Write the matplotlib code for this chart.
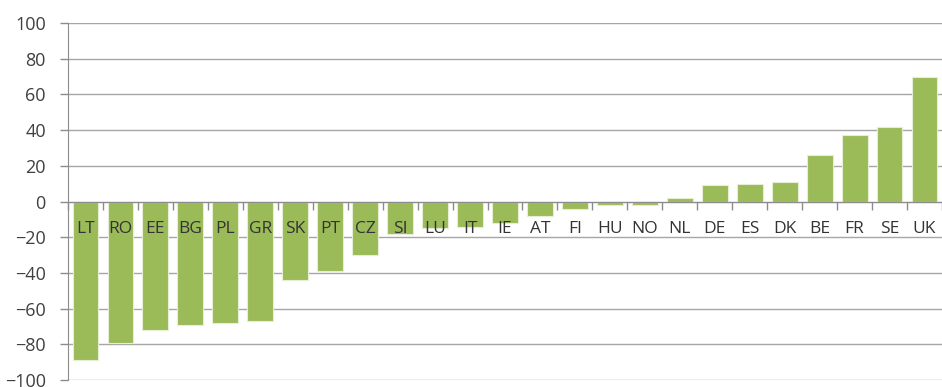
import matplotlib.pyplot as plt
import numpy as np

# Data
countries = ["LT", "RO", "EE", "BG", "PL", "GR", "SK", "PT", "CZ", "SI", "LU", "IT", "IE",
             "AT", "FI", "HU", "NO", "NL", "DE", "ES", "DK", "BE", "FR", "SE", "UK"]
values = [-89, -79, -72, -69, -68, -67, -44, -39, -30, -18, -15, -14, -12,
          -8, -4, -2, -2, 2, 9, 10, 11, 26, 37, 42, 70]
yticks = list(range(-100, 101, 20))

plt.rcParams['font.family'] = ['Open Sans', 'DejaVu Sans']

fig = plt.figure(figsize=(9.42, 3.87), dpi=100)
ax = fig.add_axes([0.0722, 0.018, 0.9278, 0.9225])

x = np.arange(len(countries))
ax.bar(x, values, width=0.74, color="#9BBB59", edgecolor="#E6EED5", linewidth=0.8, zorder=1)

ax.set_xlim(-0.5, len(countries) - 0.5)
ax.set_ylim(-100, 100)
ax.set_yticks(yticks)
ax.tick_params(axis="y", labelsize=13, labelcolor="#404040", color="#8C8C8C",
               length=6, width=1, pad=10)

# gridlines behind bars, category labels on top of them
ax.set_axisbelow(True)
ax.yaxis.grid(True, color="#A6A6A6", linewidth=1)
ax.xaxis.set_zorder(3)

ax.set_xticks(x)
ax.set_xticklabels(countries)
ax.set_xticks(np.arange(len(countries) + 1) - 0.5, minor=True)
ax.tick_params(axis="x", which="major", length=0, pad=14, labelsize=12.5, labelcolor="#333333")
ax.tick_params(axis="x", which="minor", length=6, width=1, color="#8C8C8C")

ax.spines["bottom"].set_position(("data", 0))
ax.spines["bottom"].set_color("#8C8C8C")
ax.spines["left"].set_color("#8C8C8C")
ax.spines["top"].set_visible(False)
ax.spines["right"].set_visible(False)

fig.savefig("out.png", dpi=100)
